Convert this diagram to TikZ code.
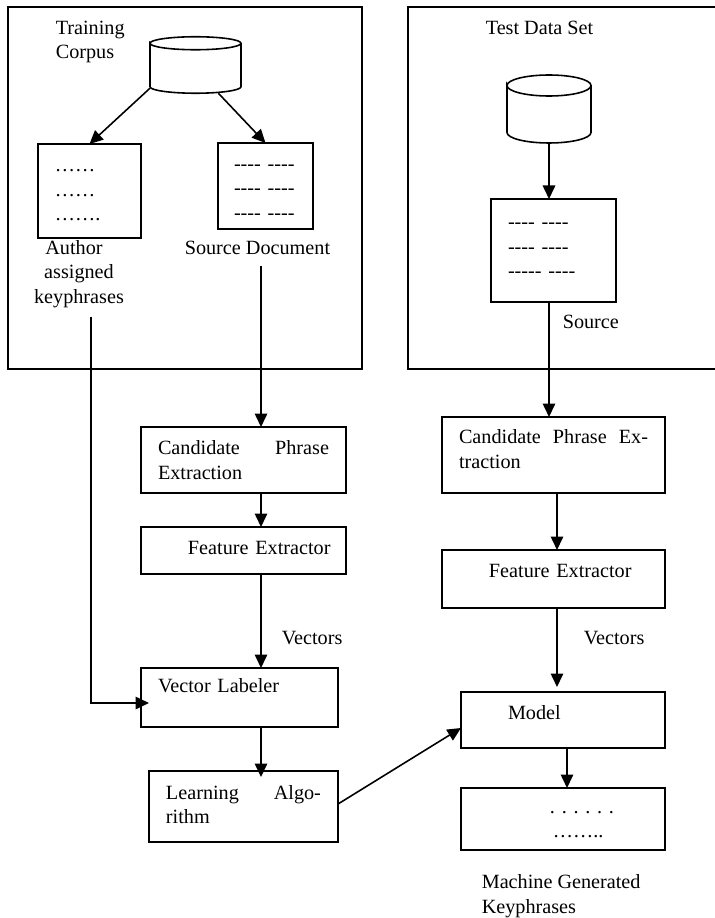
\documentclass[tikz,border=0pt]{standalone}
\usepackage{fontspec}
\setmainfont{Liberation Serif}
\newfontfamily\plainfont{Liberation Serif}
\newcommand\bodyfont{\fontsize{11.5}{13.9}\selectfont\frenchspacing}
\usetikzlibrary{arrows.meta}

\begin{document}
\begin{tikzpicture}[x=0.02cm,y=-0.02cm,line width=0.9pt,
    >={Stealth[inset=0pt,length=2.7mm,width=2.5mm]},
    every node/.style={font=\bodyfont},
    stepbox/.style={draw,anchor=north west,align=left,inner xsep=.34cm,inner ysep=0pt,outer sep=0pt},
    dashbox/.style={stepbox,font=\bodyfont\plainfont},
    dbase/.style={inner sep=0pt,outer sep=0pt},
    caption/.style={inner sep=0pt,align=left,anchor=west}]
    \useasboundingbox (0,0) rectangle (715,918);

    % Draw the frames of the training corpus and the test data set
    \draw (8,7) rectangle (362,369);
    \draw (715,7) -- (408,7) -- (408,369) -- (715,369);
    \node[caption] (traintitle) at (55,42) {Training\\Corpus};
    \node[caption] (testtitle) at (485,28) {Test Data Set};

    % Databases
    \node[dbase,minimum width=1.82cm,minimum height=1.13cm] (dbtrain) at (195.5,65) {};
    \draw ([yshift=-.13cm]dbtrain.north west) arc[start angle=180,end angle=-180,x radius=.91cm,y radius=.13cm]
        -- ([yshift=.13cm]dbtrain.south west) arc[start angle=180,end angle=360,x radius=.91cm,y radius=.13cm]
        -- ([yshift=-.13cm]dbtrain.north east);
    \node[dbase,minimum width=1.68cm,minimum height=1.36cm] (dbtest) at (549,109) {};
    \draw ([yshift=-.21cm]dbtest.north west) arc[start angle=180,end angle=-180,x radius=.84cm,y radius=.21cm]
        -- ([yshift=.21cm]dbtest.south west) arc[start angle=180,end angle=360,x radius=.84cm,y radius=.21cm]
        -- ([yshift=-.21cm]dbtest.north east);

    % Documents inside the training frame
    \node[stepbox,text width=1.38cm,minimum height=1.88cm] (authbox) at (38,144)
        {\mbox{}\\[-.27cm]……\\……\\…….};
    \node[dashbox,inner xsep=.32cm,text width=1.26cm,minimum height=1.72cm] (srcbox) at (218,143)
        {\mbox{}\\[-.13cm]---- ----\\---- ----\\---- ----};
    \node[caption,align=center,anchor=center] (authlabel) at (79,274)
        {Author\hspace*{.2cm}\\assigned\\keyphrases};
    \node[caption] (srclabel) at (184,248) {Source Document};

    % Document inside the test frame
    \node[dashbox,text width=1.82cm,minimum height=2.06cm] (testbox) at (491,199)
        {---- ----\\---- ----\\----- ----};
    \node[caption] (testlabel) at (562,322) {Source};

    % Left column
    \node[stepbox,text width=3.42cm,minimum height=1.32cm] (candleft) at (141,427)
        {Candidate \hfill Phrase\\Extraction};
    \node[stepbox,text width=3.42cm,minimum height=.94cm] (featleft) at (141,527)
        {\hspace*{.6cm}\mbox{Feature Extractor}\\[-.4cm]\mbox{}};
    \node[stepbox,text width=3.26cm,minimum height=1.18cm] (veclab) at (141,668)
        {Vector Labeler\\\mbox{}};
    \node[stepbox,text width=3.1cm,minimum height=1.42cm] (learn) at (149,771)
        {Learning \hfill Algo-\\rithm\\[-.4cm]\mbox{}};

    % Right column
    \node[stepbox,text width=3.78cm,minimum height=1.52cm] (candright) at (442,417)
        {Candidate \hfill Phrase \hfill Ex-\\traction\\[-.25cm]\mbox{}};
    \node[stepbox,text width=3.78cm,minimum height=1.16cm] (featright) at (442,550)
        {\hspace*{.6cm}\mbox{Feature Extractor}\\[-.17cm]\mbox{}};
    \node[stepbox,text width=3.4cm,minimum height=1.12cm] (model) at (461,692)
        {\hspace*{.6cm}Model\\[-.2cm]\mbox{}};
    \node[stepbox,text width=3.4cm,minimum height=1.24cm] (keybox) at (461,788)
        {\mbox{}\\[-.23cm]\hspace*{1.44cm}. . . . . .\\\hspace*{1.5cm}……..};

    % Texts beside the arrows and under the last box
    \node[caption] (vecleft) at (281,638) {Vectors};
    \node[caption] (vecright) at (583,638) {Vectors};
    \node[caption] (keylabel) at (481,896) {Machine Generated\\Keyphrases};

    % Free ends of the lines
    \coordinate (srcstart) at (261,266);
    \coordinate (authstart) at (91,317);
    \coordinate (authbend) at (91,703);
    \coordinate (authend) at (149,703);
    \coordinate (learntip) at (261,777);
    \coordinate (righttrunk) at (557,300);
    \coordinate (modeltip) at (557,687);
    \coordinate (keystart) at (567,748);
    \coordinate (learnout) at (338,804);
    \coordinate (modelin) at (461,728);

    % Draw the arrows of the training frame
    \draw [->] (dbtrain.207) -- (authbox.north);
    \draw [->] (dbtrain.309) -- (srcbox.north);

    % Draw the arrows of the test frame
    \draw [->] (dbtest.south) -- (dbtest.south |- testbox.north);
    \draw [->] (dbtest.south |- testbox.south) -- (dbtest.south |- candright.north);

    % Draw the arrows of the left column
    \draw [->] (srcstart) -- (srcstart |- candleft.north);
    \draw [->] (srcstart |- candleft.south) -- (srcstart |- featleft.north);
    \draw [->] (srcstart |- featleft.south) -- (srcstart |- veclab.north);
    \draw [->] (srcstart |- veclab.south) -- (learntip);
    \draw [->] (authstart) -- (authbend) -- (authend);

    % Draw the arrows of the right column
    \draw [->] (righttrunk |- candright.south) -- (righttrunk |- featright.north);
    \draw [->] (righttrunk |- featright.south) -- (modeltip);
    \draw [->] (keystart) -- (keystart |- keybox.north);

    % Draw the arrow from the learning algorithm to the model
    \draw [->] (learnout) -- (modelin);
\end{tikzpicture}
\end{document}
